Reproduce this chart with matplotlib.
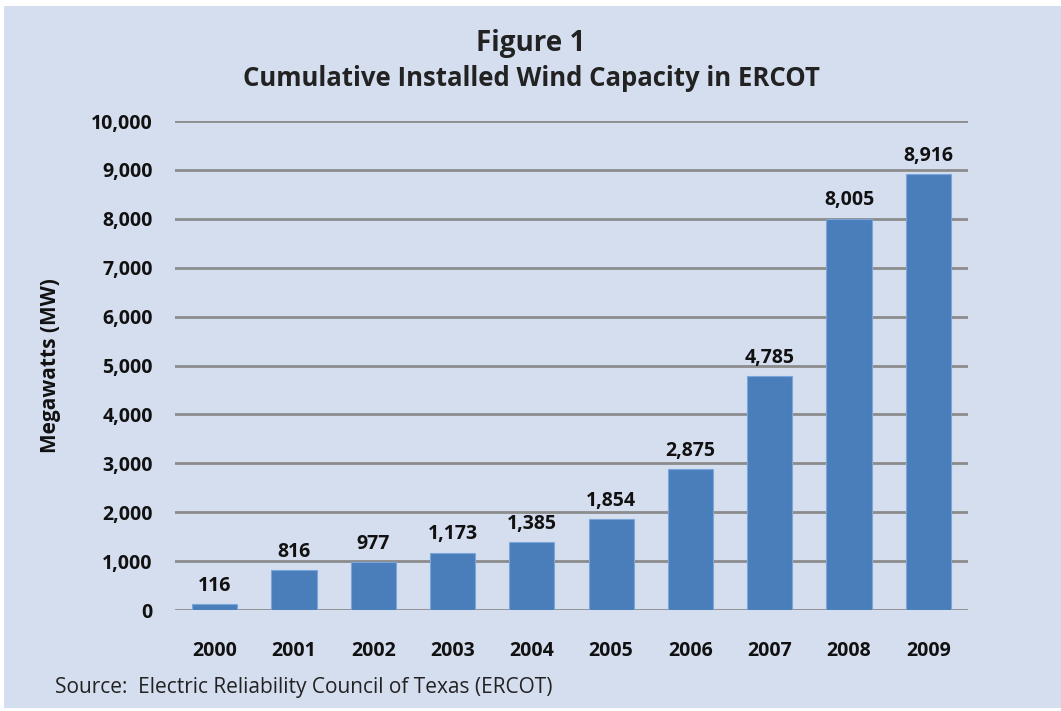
import matplotlib.pyplot as plt
from matplotlib.patches import Rectangle
from matplotlib.ticker import FuncFormatter

years = ["2000", "2001", "2002", "2003", "2004", "2005", "2006", "2007", "2008", "2009"]
capacity_mw = [116, 816, 977, 1173, 1385, 1854, 2875, 4785, 8005, 8916]
y_ticks = list(range(0, 10001, 1000))

W, H = 1061, 711
bg = "#d5deef"
bar_color = "#4a7ebb"
grid_color = "#8c8c8c"
font = "Open Sans"

fig = plt.figure(figsize=(W / 100, H / 100), dpi=100, facecolor="white")

# light panel behind everything, white margin on top/left/bottom
fig.patches.append(Rectangle((4 / W, 3 / H), 1 - 4 / W, 1 - 9 / H,
                             transform=fig.transFigure, facecolor=bg,
                             edgecolor="none", zorder=-10))

ax = fig.add_axes([175 / W, 101 / H, (968 - 175) / W, (610 - 121) / H])
ax.set_facecolor("none")

x = range(len(years))
ax.bar(x, capacity_mw, width=0.57, color=bar_color,
       edgecolor="#7ba6da", linewidth=0.8, zorder=3)

for xi, v in zip(x, capacity_mw):
    ax.text(xi, v + 170, f"{v:,}", ha="center", va="bottom",
            fontsize=14, fontweight="bold", family=font, color="#111111")

ax.set_xlim(-0.5, len(years) - 0.5)
ax.set_ylim(0, 10000)
ax.set_yticks(y_ticks)
ax.yaxis.set_major_formatter(FuncFormatter(lambda v, p: f"{int(v):,}"))
ax.set_xticks(list(x))
ax.set_xticklabels(years)

for yv in y_ticks:
    ax.axhline(yv, color=grid_color, linewidth=2, zorder=1)

for s in ax.spines.values():
    s.set_visible(False)
ax.tick_params(length=0)
ax.tick_params(axis="y", pad=16)
ax.tick_params(axis="x", pad=22)
for lbl in ax.get_xticklabels() + ax.get_yticklabels():
    lbl.set_fontsize(14)
    lbl.set_fontweight("bold")
    lbl.set_family(font)
    lbl.set_color("#111111")

ax.set_ylabel("Megawatts (MW)", fontsize=15, fontweight="bold", family=font,
              color="#111111")
ax.yaxis.set_label_coords((61 - 175) / 793, 0.5)

fig.text(531 / W, 1 - 43 / H, "Figure 1", ha="center", va="center",
         fontsize=20, fontweight="bold", family=font, color="#222222")
fig.text(531 / W, 1 - 78 / H, "Cumulative Installed Wind Capacity in ERCOT",
         ha="center", va="center", fontsize=18.5, fontweight="bold",
         family=font, color="#222222")
fig.text(55 / W, 1 - 688 / H, "Source:  Electric Reliability Council of Texas (ERCOT)",
         ha="left", va="center", fontsize=15, family=font, color="#222222")

fig.savefig("out.png", dpi=100, facecolor="white")
